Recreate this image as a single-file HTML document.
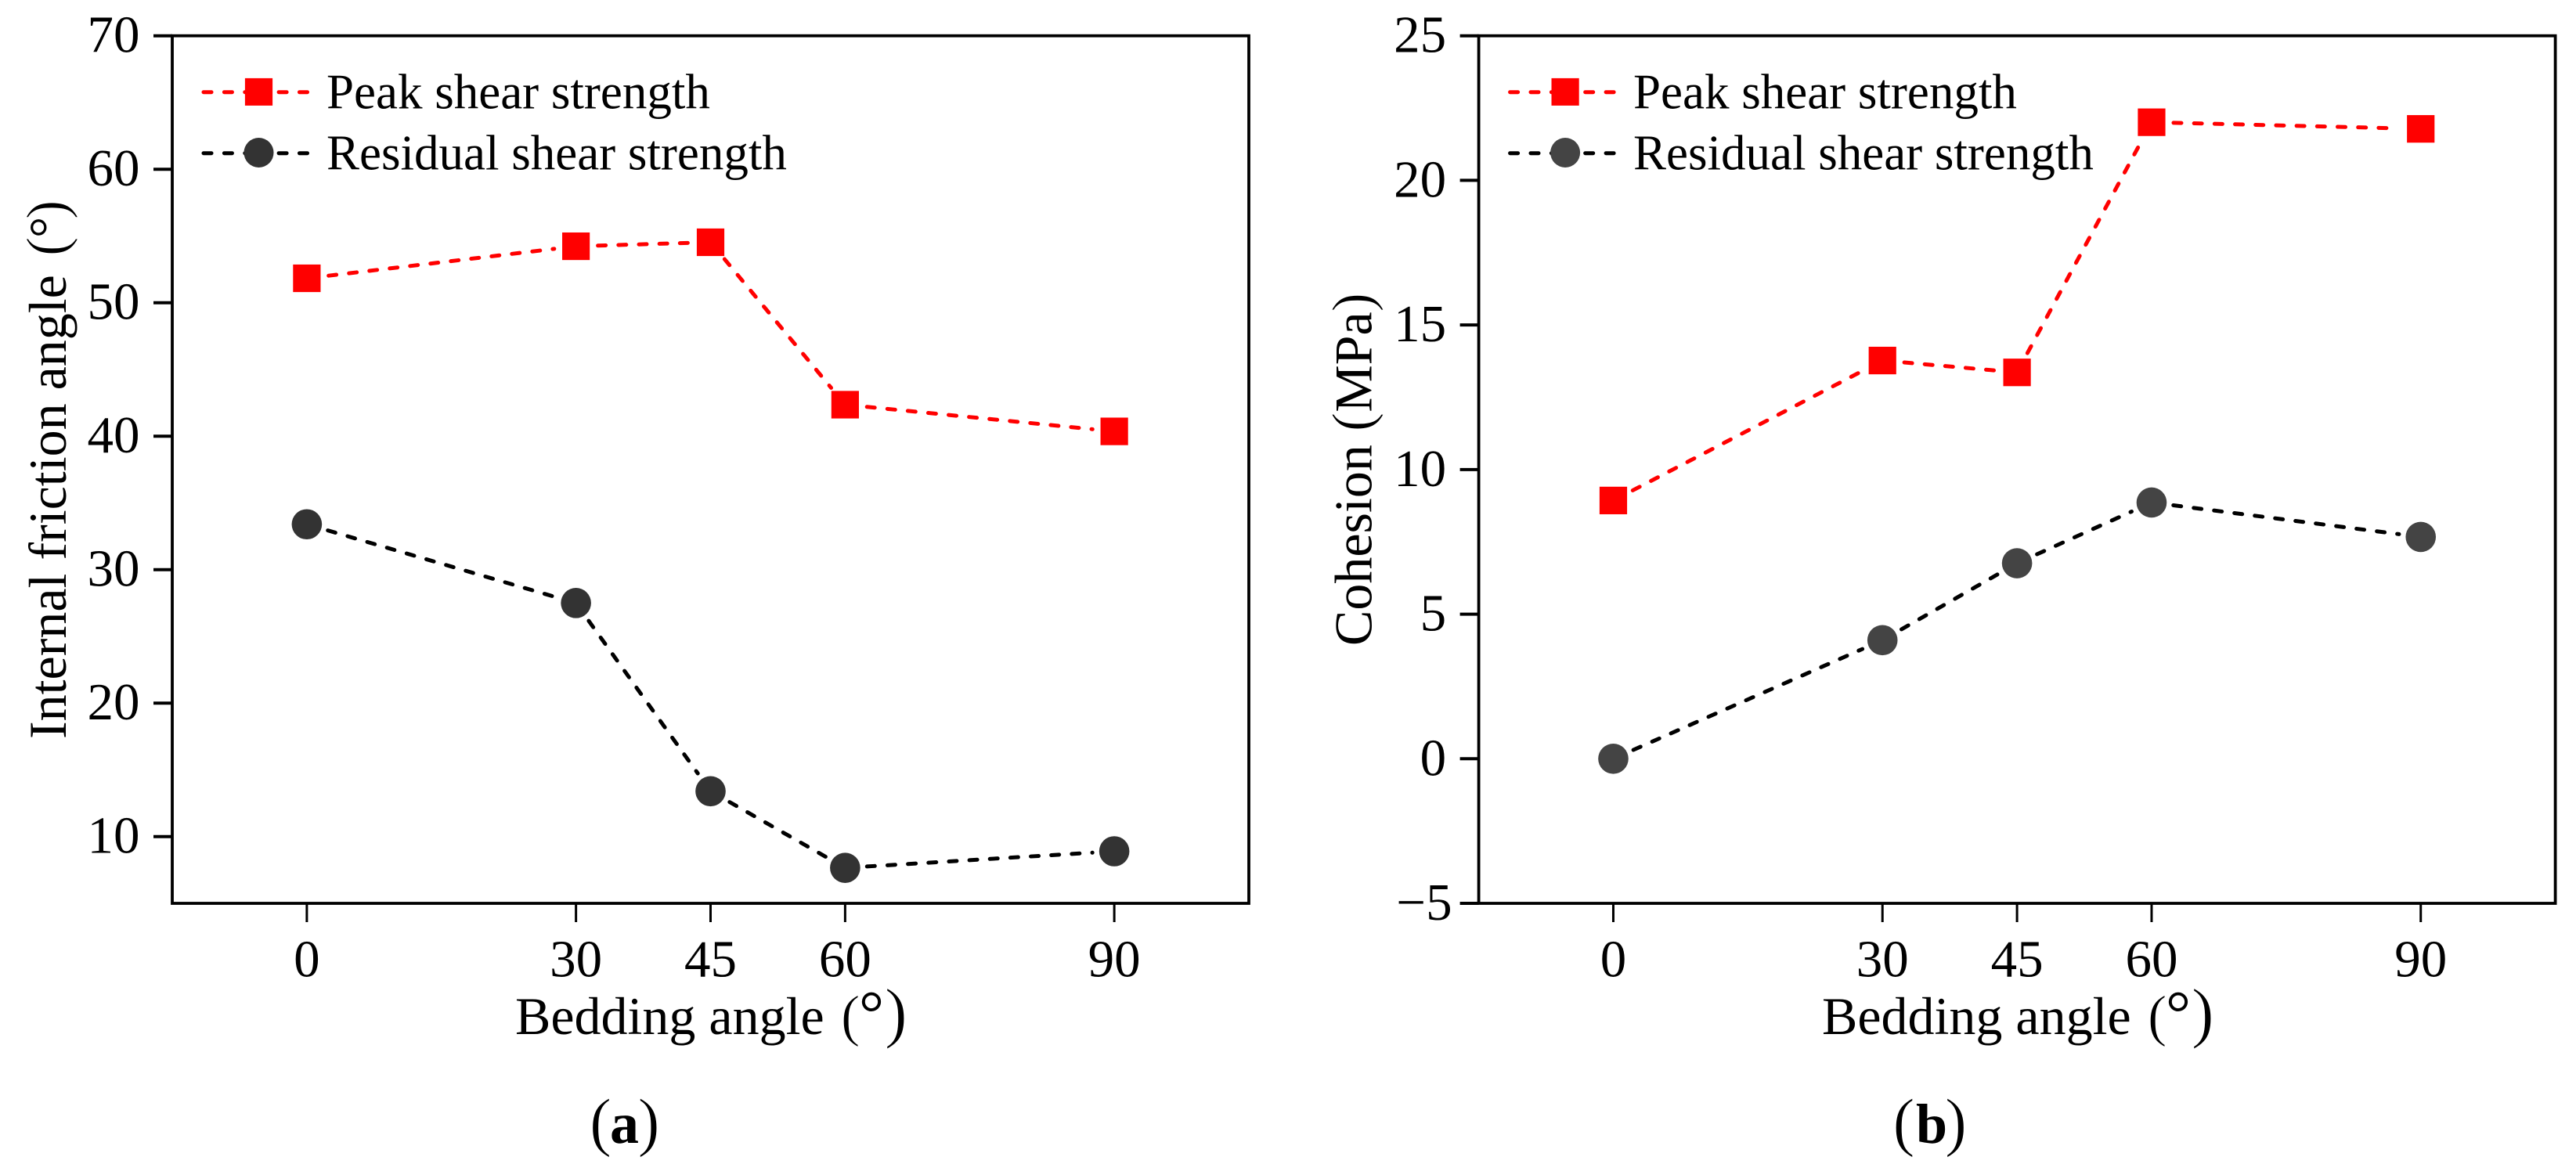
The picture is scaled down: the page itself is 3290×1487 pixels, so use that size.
<!DOCTYPE html>
<html lang="en">
<head>
<meta charset="utf-8">
<title>Shear strength parameters versus bedding angle</title>
<style>
html,body{margin:0;padding:0;background:#fff;}
body{width:3290px;height:1487px;overflow:hidden;}
svg{display:block;font-family:"Liberation Serif",serif;fill:#000;}
.thin{stroke:#fff;stroke-width:0.9px;}
</style>
</head>
<body>
<svg id="figure" xmlns="http://www.w3.org/2000/svg" width="3290" height="1487" viewBox="0 0 3290 1487">
  <rect x="0" y="0" width="3290" height="1487" fill="#ffffff"/>

  <g>
    <text y="1321" font-size="68"><tspan x="658">Bedding angle </tspan><tspan class="thin" x="1074" y="1322" font-size="73">(</tspan><tspan x="1097" y="1321" font-size="80">°</tspan><tspan class="thin" x="1130" y="1322" font-size="86">)</tspan></text>
    <text transform="translate(84,944) rotate(-90)" font-size="68"><tspan x="0">Internal friction angle </tspan><tspan class="thin" x="617" font-size="73">(</tspan><tspan x="640">°</tspan><tspan class="thin" x="664" font-size="73">)</tspan></text>
    <text y="1461" font-size="84"><tspan class="thin" x="753">(</tspan><tspan x="779" y="1460" font-size="74" font-weight="bold">a</tspan><tspan class="thin" x="814.6" y="1461">)</tspan></text>
    <text x="417" y="138.7" font-size="63">Peak shear strength</text>
    <text x="417" y="216.5" font-size="63">Residual shear strength</text>
  </g>

  <g>
    <text y="1321" font-size="68"><tspan x="2327">Bedding angle </tspan><tspan class="thin" x="2743" y="1322" font-size="73">(</tspan><tspan x="2766" y="1321" font-size="80">°</tspan><tspan class="thin" x="2799" y="1322" font-size="86">)</tspan></text>
    <text transform="translate(1751.4,825) rotate(-90)" font-size="68">Cohesion <tspan class="thin" font-size="73">(</tspan>MPa<tspan class="thin" font-size="73">)</tspan></text>
    <text y="1461" font-size="84"><tspan class="thin" x="2417.5">(</tspan><tspan x="2447" y="1460" font-size="72" font-weight="bold">b</tspan><tspan class="thin" x="2484" y="1461">)</tspan></text>
    <text x="2086" y="138.7" font-size="63">Peak shear strength</text>
    <text x="2086" y="216.5" font-size="63">Residual shear strength</text>
  </g>
</svg>

<script>
// ---- chart data ----
const bedding = [0, 30, 45, 60, 90];
const xTickLabels = ["0", "30", "45", "60", "90"];

const frictionTicks = [10, 20, 30, 40, 50, 60, 70];
const frictionPeak = [51.83, 54.23, 54.53, 42.36, 40.36];
const frictionResidual = [33.4, 27.5, 13.4, 7.66, 8.9];

const cohesionTicks = [-5, 0, 5, 10, 15, 20, 25];
const cohesionPeak = [8.93, 13.77, 13.36, 22.01, 21.78];
const cohesionResidual = [0, 4.1, 6.76, 8.86, 7.67];

// ---- drawing ----
const NS = 'http://www.w3.org/2000/svg';
const svg = document.getElementById('figure');

function make(tag, parent, attrs) {
  const node = document.createElementNS(NS, tag);
  for (const key in attrs) node.setAttribute(key, attrs[key]);
  parent.appendChild(node);
  return node;
}

function drawLegendEntry(panelGroup, prefix, kind, lineColor, markerColor, axisLeft, lineY, markerY) {
  const entry = make('g', panelGroup, {});
  
  
  const cx = axisLeft + 110.5;
  [axisLeft + 40, axisLeft + 172.5].forEach(function (endX) {
    const seg = make('line', entry, {
      x1: endX, y1: lineY, x2: cx, y2: lineY,
      stroke: lineColor, 'stroke-width': 5, 'stroke-linecap': 'round', 'stroke-dasharray': '10 16.4'
    });
    
    
  });
  let marker;
  if (kind === 'peak') {
    marker = make('rect', entry, { x: cx - 17.6, y: markerY - 17.5, width: 35.2, height: 35, fill: markerColor });
  } else {
    marker = make('circle', entry, { cx: cx, cy: markerY, r: 19, fill: markerColor });
  }
  
  
}

function drawSeries(panelGroup, prefix, kind, values, xScale, yScale, lineColor, markerColor) {
  const series = make('g', panelGroup, {});
  
  
  const trim = 28;
  for (let i = 0; i < values.length - 1; i++) {
    const xa = xScale(bedding[i]);
    const ya = yScale(values[i]);
    const xb = xScale(bedding[i + 1]);
    const yb = yScale(values[i + 1]);
    const len = Math.hypot(xb - xa, yb - ya);
    const ux = (xb - xa) / len;
    const uy = (yb - ya) / len;
    const seg = make('line', series, {
      x1: xa + ux * trim, y1: ya + uy * trim, x2: xb - ux * trim, y2: yb - uy * trim,
      stroke: lineColor, 'stroke-width': 5, 'stroke-linecap': 'round', 'stroke-dasharray': '10 16.2'
    });
    
    
  }
  values.forEach(function (v, i) {
    const cx = xScale(bedding[i]);
    const cy = yScale(v);
    let marker;
    if (kind === 'peak') {
      marker = make('rect', series, { x: cx - 17.6, y: cy - 17.6, width: 35.2, height: 35.2, fill: markerColor });
    } else {
      marker = make('circle', series, { cx: cx, cy: cy, r: 19.3, fill: markerColor });
    }
    
    
  });
}

function drawPanel(prefix, axisLeft, yMin, yMax, yTicks, peak, residual, residualColor) {
  const axisRight = axisLeft + 1375;
  const axisTop = 45.7;
  const axisBottom = 1154;
  const xMin = -15;
  const xMax = 105;
  const xScale = function (v) { return axisLeft + (v - xMin) / (xMax - xMin) * (axisRight - axisLeft); };
  const yScale = function (v) { return axisBottom - (v - yMin) / (yMax - yMin) * (axisBottom - axisTop); };

  const panel = make('g', svg, {});
  
  

  const frame = make('rect', panel, {
    x: axisLeft, y: axisTop, width: axisRight - axisLeft, height: axisBottom - axisTop,
    fill: 'none', stroke: '#000', 'stroke-width': 3.8
  });
  
  

  bedding.forEach(function (v, i) {
    const px = xScale(v);
    const tick = make('line', panel, { x1: px, y1: axisBottom, x2: px, y2: axisBottom + 24, stroke: '#000', 'stroke-width': 3 });
    
    
    const label = make('text', panel, { x: px, y: 1247.5, 'font-size': 67, 'text-anchor': 'middle' });
    label.textContent = xTickLabels[i];
    
    
  });

  yTicks.forEach(function (v) {
    const py = yScale(v);
    const tick = make('line', panel, { x1: axisLeft - 24, y1: py, x2: axisLeft, y2: py, stroke: '#000', 'stroke-width': 4 });
    
    
    const label = make('text', panel, { x: axisLeft - (v < 0 ? 34 : 41.5), y: py + 21, 'font-size': 67, 'text-anchor': 'end' });
    label.textContent = v < 0 ? '\u2212' + Math.abs(v) : String(v);
    
    
  });

  drawSeries(panel, prefix, 'peak', peak, xScale, yScale, '#ff0000', '#ff0000');
  drawSeries(panel, prefix, 'residual', residual, xScale, yScale, '#000000', residualColor);

  drawLegendEntry(panel, prefix, 'peak', '#ff0000', '#ff0000', axisLeft, 117.7, 117.4);
  drawLegendEntry(panel, prefix, 'residual', '#000000', residualColor, axisLeft, 195.7, 195);
}

drawPanel('panel-a', 220, 5, 70, frictionTicks, frictionPeak, frictionResidual, '#333333');
drawPanel('panel-b', 1888.6, -5, 25, cohesionTicks, cohesionPeak, cohesionResidual, '#444444');
</script>
</body>
</html>
